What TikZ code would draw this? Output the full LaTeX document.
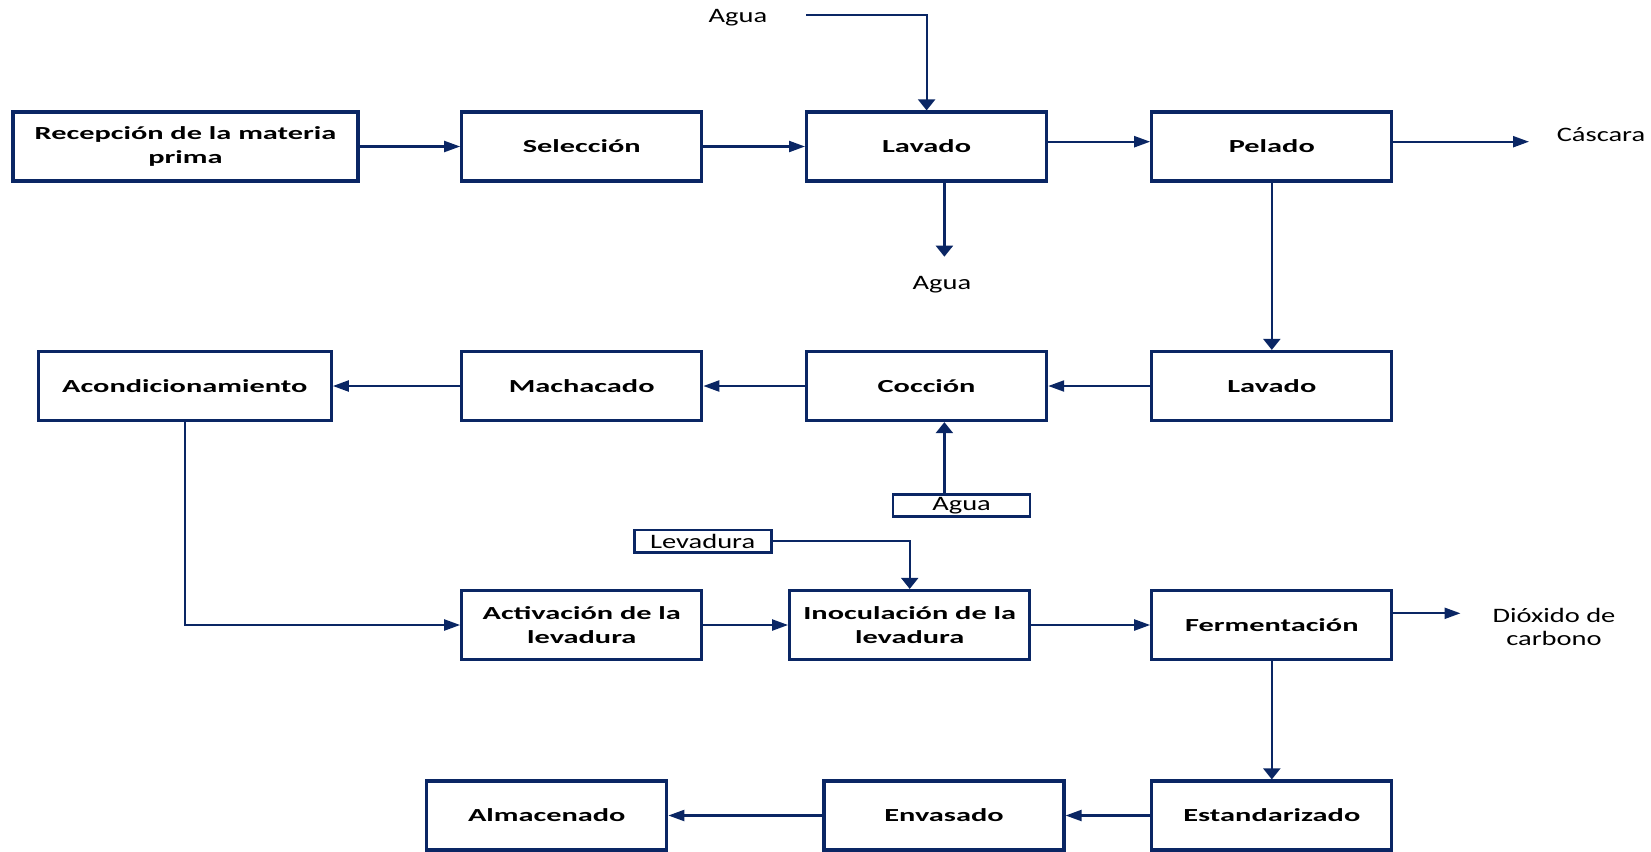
\documentclass[tikz,border=0pt]{standalone}
\usepackage{fontspec}
\setmainfont{Carlito}
\newfontfamily\boxfont[FakeStretch=1.65]{Carlito}
\newfontfamily\lblfont[FakeStretch=1.39]{Carlito}
\usetikzlibrary{arrows.meta}
\definecolor{navy}{RGB}{10,38,100}
\begin{document}
\begin{tikzpicture}[x=0.5pt,y=-0.5pt,
  box/.style={draw=navy, line width=1.6pt, fill=white, inner sep=0pt,
    minimum height=34.5pt, minimum width=120pt, align=center,
    font=\boxfont\bfseries\fontsize{9.2pt}{12pt}\selectfont},
  lbl/.style={inner sep=0pt, align=center,
    font=\lblfont\fontsize{10.25pt}{11.5pt}\selectfont},
  smallbox/.style={draw=navy, line width=1.3pt, fill=white, inner sep=0pt,
    minimum width=68.5pt, minimum height=11.2pt,
    font=\lblfont\fontsize{10.25pt}{11.5pt}\selectfont},
  conn/.style={draw=navy, line width=1.1pt},
  harr/.style={conn, -{Triangle[length=8pt,width=5.5pt]}},
  varr/.style={conn, -{Triangle[length=5.5pt,width=8.5pt]}}
]
\useasboundingbox (0,0) rectangle (1651,852);

% process boxes
\node[box, minimum width=172.5pt] (rec) at (185.5,146.5) {Recepción de la materia\\prima};
\node[box] (sel) at (581.75,146.5) {Selección};
\node[box] (lav1) at (926.6,146.5) {Lavado};
\node[box] (pel) at (1271.8,146.5) {Pelado};

\node[box, minimum width=146.5pt] (aco) at (184.75,386) {Acondicionamiento};
\node[box] (mac) at (581.75,386) {Machacado};
\node[box] (coc) at (926.6,386) {Cocción};
\node[box] (lav2) at (1271.8,386) {Lavado};

\node[box] (act) at (581.75,625) {Activación de la\\levadura};
\node[box] (ino) at (909.7,625) {Inoculación de la\\levadura};
\node[box] (fer) at (1271.8,625) {Fermentación};

\node[box] (alm) at (546.75,815.5) {Almacenado};
\node[box] (env) at (944,815.5) {Envasado};
\node[box] (est) at (1271.8,815.5) {Estandarizado};

% labels
\node[lbl, anchor=base] (aguaA) at (738,22.7) {Agua};
\node[lbl, anchor=base] (aguaB) at (942,289) {Agua};
\node[lbl, anchor=base] (cas) at (1601,141.7) {Cáscara};
\node[lbl] (dio) at (1554,627) {Dióxido de\\carbono};
\node[smallbox] (aguaC) at (961.6,505.5) {Agua};
\node[smallbox] (lev) at (702.7,541.2) {Levadura};

% helper coordinates
\coordinate (aguaAstart) at (806,15.3);
\coordinate (y1) at (0,141.7);
\coordinate (casEnd) at (1529,141.7);
\coordinate (xB) at (944.4,0);
\coordinate (aguaBtip) at (944.4,256.7);
\coordinate (y3) at (0,613.3);
\coordinate (dioEnd) at (1460.5,613.3);

% connectors
\draw[varr] (aguaAstart) -| (lav1.north);
\draw[harr] (rec.east) -- (sel.west);
\draw[harr] (sel.east) -- (lav1.west);
\draw[harr] (lav1.east |- y1) -- (pel.west |- y1);
\draw[harr] (pel.east |- y1) -- (casEnd);
\draw[varr] (lav1.south -| xB) -- (aguaBtip);
\draw[varr] (pel.south) -- (lav2.north);

\draw[harr] (lav2.west) -- (coc.east);
\draw[harr] (coc.west) -- (mac.east);
\draw[harr] (mac.west) -- (aco.east);
\draw[varr] (aguaC.north -| xB) -- (coc.south -| xB);

\draw[harr] (aco.south) |- (act.west);
\draw[varr] (lev.east) -| (ino.north);
\draw[harr] (act.east) -- (ino.west);
\draw[harr] (ino.east) -- (fer.west);
\draw[harr] (fer.east |- y3) -- (dioEnd);
\draw[varr] (fer.south) -- (est.north);

\draw[harr] (est.west) -- (env.east);
\draw[harr] (env.west) -- (alm.east);
\end{tikzpicture}
\end{document}
